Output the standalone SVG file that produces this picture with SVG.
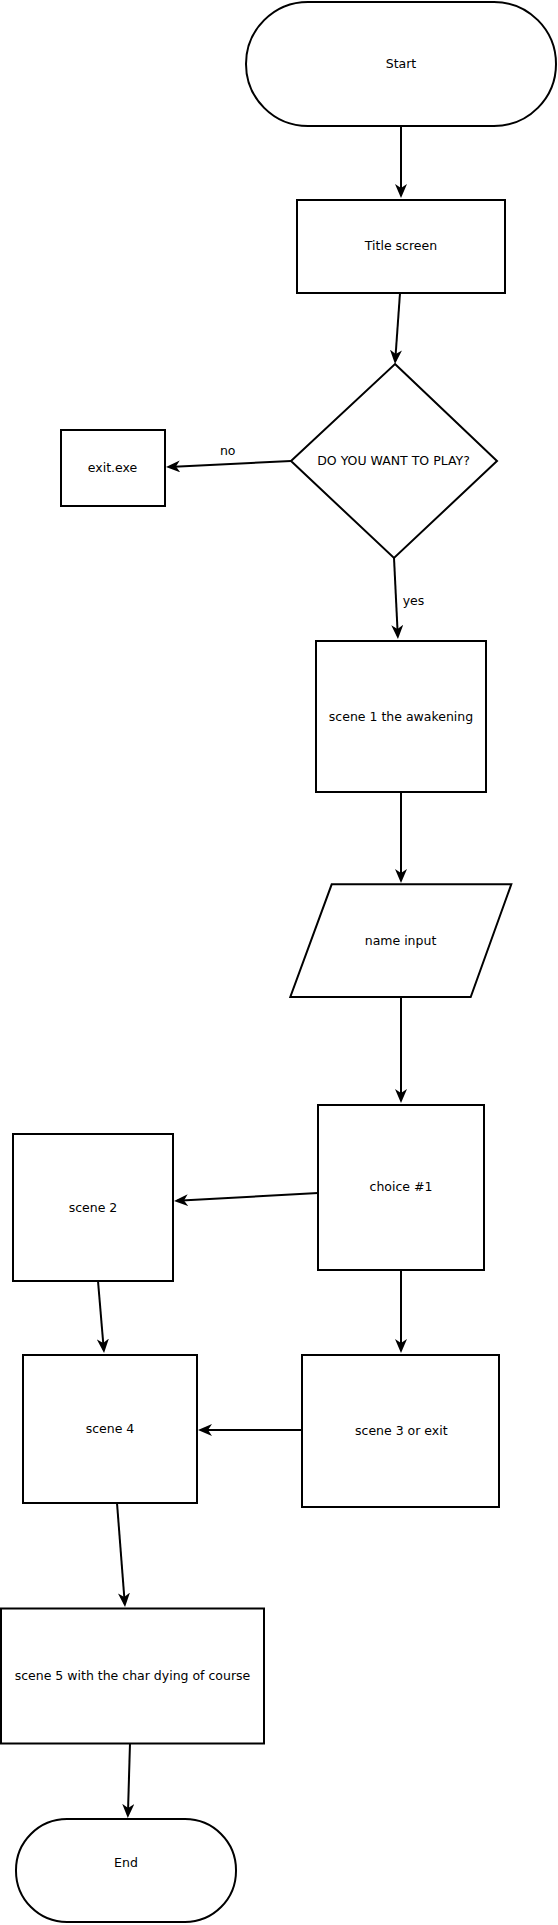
<svg xmlns="http://www.w3.org/2000/svg" width="558" height="1925" viewBox="0 0 558 1925">
<style>
.s{fill:#fff;stroke:#000;stroke-width:2}
.t{font-family:"DejaVu Sans",sans-serif;font-size:12.5px;fill:#000;text-anchor:middle}
.l{font-family:"DejaVu Sans",sans-serif;font-size:12.5px;fill:#000}
.c{fill:none;stroke:#000;stroke-width:2;marker-end:url(#a)}
</style>
<defs>
<marker id="a" viewBox="0 0 14 12" refX="11" refY="6" markerWidth="14" markerHeight="12" markerUnits="userSpaceOnUse" orient="auto">
<path d="M0,0 L14,6 L0,12 L4,6 Z" fill="#000"/>
</marker>
</defs>
<g id="connectors">
<line class="c" x1="401" y1="126" x2="401" y2="195"/>
<line class="c" x1="400" y1="293" x2="395.2" y2="361"/>
<line class="c" x1="291" y1="461" x2="169" y2="466.9"/>
<line class="c" x1="394" y1="558" x2="397.8" y2="636"/>
<line class="c" x1="401" y1="792" x2="401" y2="880"/>
<line class="c" x1="401" y1="997" x2="401" y2="1100"/>
<line class="c" x1="318" y1="1193" x2="177" y2="1200.8"/>
<line class="c" x1="98" y1="1281" x2="103.8" y2="1350"/>
<line class="c" x1="401" y1="1270" x2="401" y2="1350"/>
<line class="c" x1="302" y1="1430" x2="201" y2="1430"/>
<line class="c" x1="117" y1="1503" x2="124.8" y2="1604"/>
<line class="c" x1="130" y1="1743" x2="127.9" y2="1815"/>
<text class="t" x="227.7" y="454.5">no</text>
<text class="l" x="402.7" y="604.5">yes</text>
</g>
<g id="start"><rect class="s" x="246" y="2" width="310" height="124" rx="62" ry="62"/><text class="t" x="401" y="67.8">Start</text></g>
<g id="title"><rect class="s" x="297" y="200" width="208" height="93"/><text class="t" x="401" y="249.6">Title screen</text></g>
<g id="decision"><polygon class="s" points="395,364 497,461 394,558 291,461"/><text class="t" x="393.5" y="465.2">DO YOU WANT TO PLAY?</text></g>
<g id="exit"><rect class="s" x="61" y="430" width="104" height="76"/><text class="t" x="112.5" y="471.7">exit.exe</text></g>
<g id="scene1"><rect class="s" x="316" y="641" width="170" height="151"/><text class="t" x="401" y="721.2">scene 1 the awakening</text></g>
<g id="nameinput"><polygon class="s" points="331.7,884.3 511.3,884.3 470.7,997 290.3,997"/><text class="t" x="400.5" y="945.2">name input</text></g>
<g id="choice1"><rect class="s" x="318" y="1105" width="166" height="165"/><text class="t" x="401" y="1191.2">choice #1</text></g>
<g id="scene2"><rect class="s" x="13" y="1134" width="160" height="147"/><text class="t" x="93" y="1212.2">scene 2</text></g>
<g id="scene3"><rect class="s" x="302" y="1355" width="197" height="152"/><text class="t" x="401.3" y="1435.2">scene 3 or exit</text></g>
<g id="scene4"><rect class="s" x="23" y="1355" width="174" height="148"/><text class="t" x="110" y="1433.2">scene 4</text></g>
<g id="scene5"><rect class="s" x="1" y="1608.5" width="263" height="135"/><text class="t" x="132.5" y="1680.2">scene 5 with the char dying of course</text></g>
<g id="end"><rect class="s" x="16" y="1819" width="220" height="103" rx="51" ry="51"/><text class="t" x="126" y="1867.2">End</text></g>
</svg>
